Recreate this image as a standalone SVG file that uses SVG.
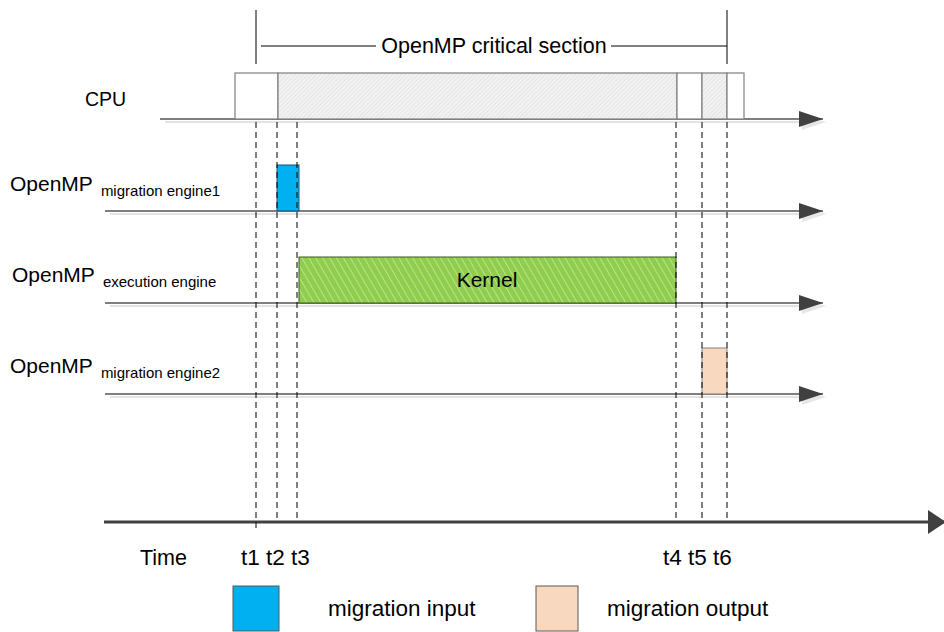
<svg xmlns="http://www.w3.org/2000/svg" width="944" height="632" viewBox="0 0 944 632">
<defs>
<pattern id="greyHatch" patternUnits="userSpaceOnUse" width="3" height="3" patternTransform="rotate(45)">
<rect width="3" height="3" fill="#f2f2f2"/>
<line x1="0" y1="0" x2="0" y2="3" stroke="#d9d9d9" stroke-width="1"/>
</pattern>
<pattern id="greenHatch" patternUnits="userSpaceOnUse" width="6" height="6" patternTransform="rotate(-30)">
<rect width="6" height="6" fill="#8fcd4c"/>
<line x1="0" y1="0" x2="0" y2="6" stroke="#c6e6a0" stroke-width="1.6"/>
</pattern>
<marker id="arrow" markerUnits="userSpaceOnUse" markerWidth="30" markerHeight="22" refX="24" refY="8" orient="auto">
<path d="M3,3 L27,11 L3,19 Z" fill="#e6e6e6"/>
<path d="M0,0 L24,8 L0,16 Z" fill="#404040"/>
</marker>
<marker id="bigArrow" markerUnits="userSpaceOnUse" markerWidth="20" markerHeight="24" refX="16" refY="12" orient="auto">
<path d="M0,0 L18,12 L0,24 Z" fill="#404040"/>
</marker>
</defs>
<style>
text { font-family: "Liberation Sans", Arial, sans-serif; fill: #000; }
.lbl { font-size: 21px; }
.sub { font-size: 15px; }
.title { font-size: 21.5px; }
.tl { font-size: 22.5px; }
.axis { stroke: #555; stroke-width: 1.5; fill: none; }
.shadow { stroke: #e3e3e3; stroke-width: 2; fill: none; }
.dash { stroke: #000; stroke-width: 1; stroke-dasharray: 6 4; fill: none; }
.box { stroke: #7f7f7f; stroke-width: 1.2; }
</style>

<g id="critical-section">
<line x1="256" y1="10" x2="256" y2="64" stroke="#000" stroke-width="1"/>
<line x1="727" y1="10" x2="727" y2="64" stroke="#000" stroke-width="1"/>
<line x1="261" y1="46" x2="376" y2="46" stroke="#000" stroke-width="1"/>
<line x1="611" y1="46" x2="727" y2="46" stroke="#000" stroke-width="1"/>
<text class="title" x="494" y="53" text-anchor="middle">OpenMP critical section</text>
</g>

<g id="connectors">
<line class="shadow" x1="165" y1="122" x2="815" y2="122"/>
<line class="axis" x1="160" y1="119" x2="823" y2="119" marker-end="url(#arrow)"/>
<line class="shadow" x1="110" y1="214" x2="815" y2="214"/>
<line class="axis" x1="105" y1="211" x2="823" y2="211" marker-end="url(#arrow)"/>
<line class="shadow" x1="110" y1="306" x2="815" y2="306"/>
<line class="axis" x1="105" y1="303" x2="823" y2="303" marker-end="url(#arrow)"/>
<line class="shadow" x1="110" y1="397" x2="815" y2="397"/>
<line class="axis" x1="105" y1="394" x2="823" y2="394" marker-end="url(#arrow)"/>
<line x1="104" y1="522" x2="944" y2="522" stroke="#404040" stroke-width="3" marker-end="url(#bigArrow)"/>
</g>

<g id="cpu">
<text class="lbl" x="85" y="106" style="font-size:19.5px">CPU</text>
<rect class="box" x="235" y="73" width="43" height="46" fill="#fff"/>
<rect class="box" x="278" y="73" width="399" height="46" fill="url(#greyHatch)"/>
<rect class="box" x="677" y="73" width="25" height="46" fill="#fff"/>
<rect class="box" x="702" y="73" width="25" height="46" fill="url(#greyHatch)"/>
<rect class="box" x="727" y="73" width="17" height="46" fill="#fff"/>
</g>

<g id="migration-engine1">
<text x="10" y="191"><tspan class="lbl">OpenMP</tspan><tspan class="sub" dx="8" dy="5">migration engine1</tspan></text>
<rect x="277" y="165" width="22" height="46" fill="#00b0f0" stroke="#1f4e79" stroke-width="1"/>
</g>

<g id="execution-engine">
<text x="12" y="282"><tspan class="lbl">OpenMP</tspan><tspan class="sub" dx="8" dy="5">execution engine</tspan></text>
<rect x="299" y="257" width="377" height="46" fill="url(#greenHatch)" stroke="#3a5a1a" stroke-width="1"/>
<text class="lbl" x="487" y="287" text-anchor="middle">Kernel</text>
</g>

<g id="migration-engine2">
<text x="10" y="373"><tspan class="lbl">OpenMP</tspan><tspan class="sub" dx="8" dy="5">migration engine2</tspan></text>
<rect x="702" y="348" width="25" height="46" fill="#f8d9c0" stroke="#808080" stroke-width="1"/>
</g>

<g id="time-markers">
<line class="dash" x1="256" y1="122" x2="256" y2="528"/>
<line class="dash" x1="277" y1="122" x2="277" y2="520"/>
<line class="dash" x1="297" y1="122" x2="297" y2="520"/>
<line class="dash" x1="676" y1="122" x2="676" y2="520"/>
<line class="dash" x1="702" y1="122" x2="702" y2="520"/>
<line class="dash" x1="727" y1="122" x2="727" y2="520"/>
</g>

<g id="time-labels">
<text class="lbl" x="140" y="565" style="font-size:21.5px">Time</text>
<text class="tl" x="241" y="565">t1 t2 t3</text>
<text class="tl" x="663" y="565">t4 t5 t6</text>
</g>

<g id="legend-input">
<rect x="233" y="586" width="46" height="45" fill="#00b0f0" stroke="#595959" stroke-width="1"/>
<text class="tl" x="328" y="616">migration input</text>
</g>
<g id="legend-output">
<rect x="536" y="586" width="42" height="45" fill="#f8d9c0" stroke="#595959" stroke-width="1"/>
<text class="tl" x="607" y="616">migration output</text>
</g>
</svg>
